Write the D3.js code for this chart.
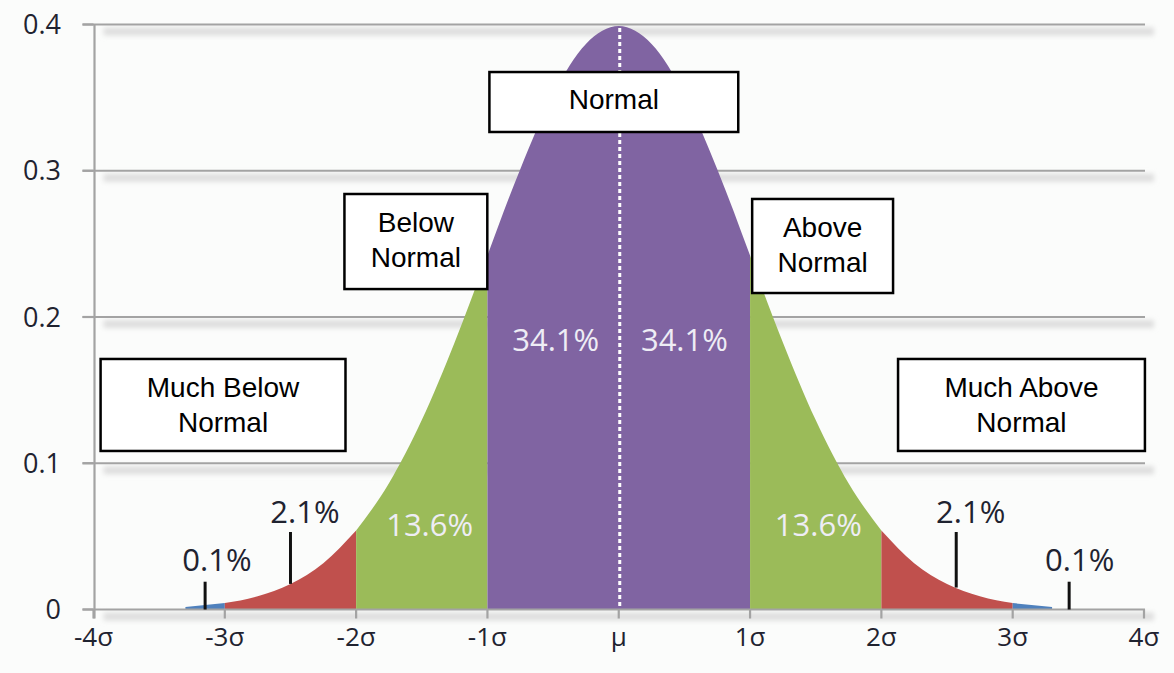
<!DOCTYPE html>
<html>
<head>
<meta charset="utf-8">
<script src="https://cdn.jsdelivr.net/npm/d3@7"></script>
<style>
  html, body { margin: 0; padding: 0; background: #fbfcfb; }
  svg { display: block; }
</style>
</head>
<body>
<svg width="1174" height="673"></svg>
<script>
// values
var sigmaTicks = [-4, -3, -2, -1, 0, 1, 2, 3, 4];
var sigmaLabels = ["-4\u03c3", "-3\u03c3", "-2\u03c3", "-1\u03c3", "\u03bc", "1\u03c3", "2\u03c3", "3\u03c3", "4\u03c3"];
var yTicks = [0, 0.1, 0.2, 0.3, 0.4];
var yLabels = ["0", "0.1", "0.2", "0.3", "0.4"];

var curveSigma = [-3.3, -3, -2.75, -2.5, -2.25, -2, -1.75, -1.5, -1.25, -1, -0.75, -0.5, -0.25, 0,
                  0.25, 0.5, 0.75, 1, 1.25, 1.5, 1.75, 2, 2.25, 2.5, 2.75, 3, 3.3];
var curveDensity = [0.0017, 0.0044, 0.0091, 0.0175, 0.0317, 0.054, 0.0863, 0.1295, 0.1826, 0.242, 0.3011, 0.3521, 0.3867, 0.3989,
                    0.3867, 0.3521, 0.3011, 0.242, 0.1826, 0.1295, 0.0863, 0.054, 0.0317, 0.0175, 0.0091, 0.0044, 0.0017];

var bandEdges = [-3.3, -3, -2, -1, 1, 2, 3, 3.3];
var bandShares = ["0.1%", "2.1%", "13.6%", "34.1%", "34.1%", "13.6%", "2.1%", "0.1%"];
var categories = ["Much Below\nNormal", "Below\nNormal", "Normal", "Above\nNormal", "Much Above\nNormal"];

// style
var bandColors = ["#4f81bd", "#c0504d", "#9bbb59", "#8064a2", "#8064a2", "#9bbb59", "#c0504d", "#4f81bd"];
var numFont = "'Open Sans', 'DejaVu Sans', sans-serif";

var svg = d3.select("svg");

var defs = svg.append("defs");
defs.append("filter").attr("id", "shadow")
  .attr("filterUnits", "userSpaceOnUse")
  .attr("x", 0).attr("y", 0).attr("width", 1174).attr("height", 673)
  .append("feGaussianBlur").attr("stdDeviation", 2.8);

var x = d3.scaleLinear().domain([-4, 4]).range([93.5, 1144]),
    y = d3.scaleLinear().domain([0, 0.4]).range([609.5, 24.5]);

var points = curveSigma.map(function(s, i) { return {s: s, d: curveDensity[i]}; });

// grid lines with their soft shadow
var grid = svg.append("g");
yTicks.forEach(function(t) {
  grid.append("rect")
    .attr("x", x(-4) + 10).attr("width", x(4) - x(-4))
    .attr("y", y(t) + 3).attr("height", 8)
    .attr("fill", "#dedede")
    .attr("filter", "url(#shadow)");
});
yTicks.forEach(function(t) {
  if (t === 0) return;
  grid.append("line")
    .attr("x1", x(-4) - 11).attr("x2", x(4) + 1)
    .attr("y1", y(t)).attr("y2", y(t))
    .attr("stroke", "#a3a3a3").attr("stroke-width", 2.2);
});

// the coloured bands under the curve
var area = d3.area()
  .curve(d3.curveMonotoneX)
  .x(function(d) { return x(d.s); })
  .y0(y(0))
  .y1(function(d) { return y(d.d); });

for (var i = 0; i < bandEdges.length - 1; i++) {
  var a = bandEdges[i], b = bandEdges[i + 1];
  var seg = points.filter(function(p) { return p.s >= a - 1e-9 && p.s <= b + 1e-9; });
  svg.append("path")
    .datum(seg)
    .attr("d", area)
    .attr("fill", bandColors[i + (i >= 3 ? 1 : 0)]);
}

// dashed mean line
svg.append("line")
  .attr("x1", x(0) + 1).attr("x2", x(0) + 1)
  .attr("y1", y(0.399) + 2).attr("y2", y(0))
  .attr("stroke", "#ffffff").attr("stroke-width", 3)
  .attr("stroke-dasharray", "4,3");

// axes
var axes = svg.append("g");
axes.append("line")
  .attr("x1", x(-4) + 1).attr("x2", x(-4) + 1)
  .attr("y1", y(0.4)).attr("y2", y(0) + 9)
  .attr("stroke", "#a3a3a3").attr("stroke-width", 2.2);
axes.append("line")
  .attr("x1", x(-4) - 11).attr("x2", x(4) + 1)
  .attr("y1", y(0)).attr("y2", y(0))
  .attr("stroke", "#a3a3a3").attr("stroke-width", 2.2);

axes.selectAll(".xt").data(sigmaTicks).enter().append("line")
  .attr("x1", function(d) { return x(d); }).attr("x2", function(d) { return x(d); })
  .attr("y1", y(0)).attr("y2", y(0) + 9)
  .attr("stroke", "#a3a3a3").attr("stroke-width", 2.2);

axes.selectAll(".yt").data(yTicks).enter().append("line")
  .attr("x1", x(-4) - 11).attr("x2", x(-4))
  .attr("y1", function(d) { return y(d); }).attr("y2", function(d) { return y(d); })
  .attr("stroke", "#a3a3a3").attr("stroke-width", 2.2);

axes.selectAll(".xl").data(sigmaTicks).enter().append("text")
  .attr("x", function(d) { return x(d); })
  .attr("y", 646)
  .attr("text-anchor", "middle")
  .style("font", "26px " + numFont)
  .attr("fill", "#1f2330")
  .text(function(d, i) { return sigmaLabels[i]; });

axes.selectAll(".yl").data(yTicks).enter().append("text")
  .attr("x", 61)
  .attr("y", function(d) { return y(d); })
  .attr("dy", "0.36em")
  .attr("text-anchor", "end")
  .style("font", "27px " + numFont)
  .attr("fill", "#1f2330")
  .text(function(d, i) { return yLabels[i]; });

// share labels inside the curve
var inner = [
  {i: 3, s: -0.48, d: 0.177}, {i: 4, s: 0.5, d: 0.177},
  {i: 2, s: -1.44, d: 0.05}, {i: 5, s: 1.52, d: 0.05}
];
inner.forEach(function(o) {
  svg.append("text")
    .attr("x", x(o.s)).attr("y", y(o.d))
    .attr("text-anchor", "middle")
    .style("font", "31px " + numFont)
    .attr("fill", "#eeedf5")
    .text(bandShares[o.i]);
});

// share labels in the tails, with their pointer lines
var tails = [
  {i: 0, s: -3.06, d: 0.026, ps: -3.15, top: 0.019, bottom: 0},
  {i: 1, s: -2.39, d: 0.059, ps: -2.5, top: 0.053, bottom: 0.0175},
  {i: 6, s: 2.68, d: 0.059, ps: 2.57, top: 0.053, bottom: 0.015},
  {i: 7, s: 3.51, d: 0.026, ps: 3.43, top: 0.019, bottom: 0}
];
tails.forEach(function(o) {
  svg.append("line")
    .attr("x1", x(o.ps)).attr("x2", x(o.ps))
    .attr("y1", y(o.top)).attr("y2", y(o.bottom))
    .attr("stroke", "#111111").attr("stroke-width", 3);
  svg.append("text")
    .attr("x", x(o.s)).attr("y", y(o.d))
    .attr("text-anchor", "middle")
    .style("font", "31px " + numFont)
    .attr("fill", "#1f2330")
    .text(bandShares[o.i]);
});

// category boxes
var boxes = [
  {c: 0, s0: -3.946, s1: -2.081, d0: 0.1713, d1: 0.1084, base: 0.1451},
  {c: 1, s0: -2.089, s1: -1.001, d0: 0.2841, d1: 0.2191, base: 0.2581},
  {c: 2, s0: -0.985, s1: 0.910, d0: 0.3675, d1: 0.3265, base: 0.3423},
  {c: 3, s0: 1.016, s1: 2.089, d0: 0.2807, d1: 0.2164, base: 0.2547},
  {c: 4, s0: 2.127, s1: 4.007, d0: 0.1713, d1: 0.1084, base: 0.1451}
];
boxes.forEach(function(b) {
  var g = svg.append("g");
  g.append("rect")
    .attr("x", x(b.s0)).attr("y", y(b.d0))
    .attr("width", x(b.s1) - x(b.s0))
    .attr("height", y(b.d1) - y(b.d0))
    .attr("fill", "#ffffff")
    .attr("stroke", "#000000").attr("stroke-width", 2.5);
  var lines = categories[b.c].split("\n");
  var t = g.append("text")
    .attr("x", (x(b.s0) + x(b.s1)) / 2)
    .attr("y", y(b.base))
    .attr("text-anchor", "middle")
    .attr("font-family", "Liberation Sans, Arial, sans-serif")
    .attr("font-size", 28)
    .attr("fill", "#000000");
  lines.forEach(function(l, k) {
    t.append("tspan")
      .attr("x", (x(b.s0) + x(b.s1)) / 2)
      .attr("dy", k === 0 ? 0 : 35)
      .text(l);
  });
});
</script>
</body>
</html>
